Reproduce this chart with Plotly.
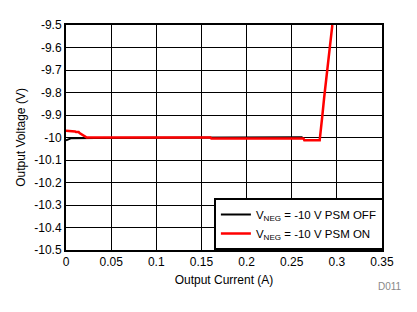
import plotly.graph_objects as go

# Data
off_current = [0.0, 0.002, 0.004, 0.006, 0.033, 0.16, 0.161, 0.262]
off_voltage = [-10.012, -10.009, -10.006, -10.003, -10.002, -10.0, -9.999, -9.999]

on_current = [0.0, 0.005, 0.006, 0.010, 0.011, 0.014, 0.015, 0.017, 0.019, 0.021, 0.023, 0.16, 0.161, 0.263, 0.264, 0.281, 0.282, 0.284, 0.286, 0.288, 0.290, 0.292, 0.294, 0.295]
on_voltage = [-9.970, -9.970, -9.973, -9.973, -9.975, -9.975, -9.980, -9.985, -9.990, -9.995, -10.0, -10.0, -10.004, -10.004, -10.012, -10.012, -9.98, -9.9, -9.82, -9.75, -9.68, -9.6, -9.53, -9.5]

x_ticks = [0, 0.05, 0.1, 0.15, 0.2, 0.25, 0.3, 0.35]
x_labels = ["0", "0.05", "0.1", "0.15", "0.2", "0.25", "0.3", "0.35"]
y_ticks = [-10.5, -10.4, -10.3, -10.2, -10.1, -10.0, -9.9, -9.8, -9.7, -9.6, -9.5]
y_labels = ["-10.5", "-10.4", "-10.3", "-10.2", "-10.1", "-10", "-9.9", "-9.8", "-9.7", "-9.6", "-9.5"]

font = "Liberation Sans, Arial, sans-serif"

fig = go.Figure()
fig.add_trace(go.Scatter(x=off_current, y=off_voltage, mode="lines",
                         line=dict(color="black", width=2),
                         name="V<sub>NEG</sub> = -10 V PSM OFF"))
fig.add_trace(go.Scatter(x=on_current, y=on_voltage, mode="lines",
                         line=dict(color="#ff0000", width=2.5),
                         name="V<sub>NEG</sub> = -10 V PSM ON"))

fig.update_layout(
    width=417, height=312,
    margin=dict(l=66, r=35, t=25, b=62),
    paper_bgcolor="white", plot_bgcolor="white",
    font=dict(family=font, size=12, color="black"),
    showlegend=True,
    legend=dict(x=1.006, y=0, xanchor="right", yanchor="bottom",
                bordercolor="black", borderwidth=2, bgcolor="white",
                font=dict(family=font, size=11.5, color="black"),
                tracegroupgap=0, itemwidth=30),
)
fig.update_xaxes(range=[0, 0.35], tickvals=x_ticks, ticktext=x_labels,
                 showgrid=True, gridcolor="black", gridwidth=1,
                 showline=True, linecolor="black", linewidth=2, mirror=True,
                 ticks="", zeroline=False,
                 title=dict(text="Output Current (A)", font=dict(size=12), standoff=7),
                 tickfont=dict(size=12))
fig.update_yaxes(range=[-10.5, -9.5], tickvals=y_ticks, ticktext=y_labels,
                 showgrid=True, gridcolor="black", gridwidth=1,
                 showline=True, linecolor="black", linewidth=2, mirror=True,
                 ticks="", zeroline=False,
                 title=dict(text="Output Voltage (V)", font=dict(size=12), standoff=6),
                 tickfont=dict(size=12))

fig.add_annotation(text="D011", xref="paper", yref="paper", x=1.07, y=-0.13,
                   xanchor="right", yanchor="top", showarrow=False,
                   font=dict(family=font, size=10, color="#888888"))

fig.write_html("out.html")
